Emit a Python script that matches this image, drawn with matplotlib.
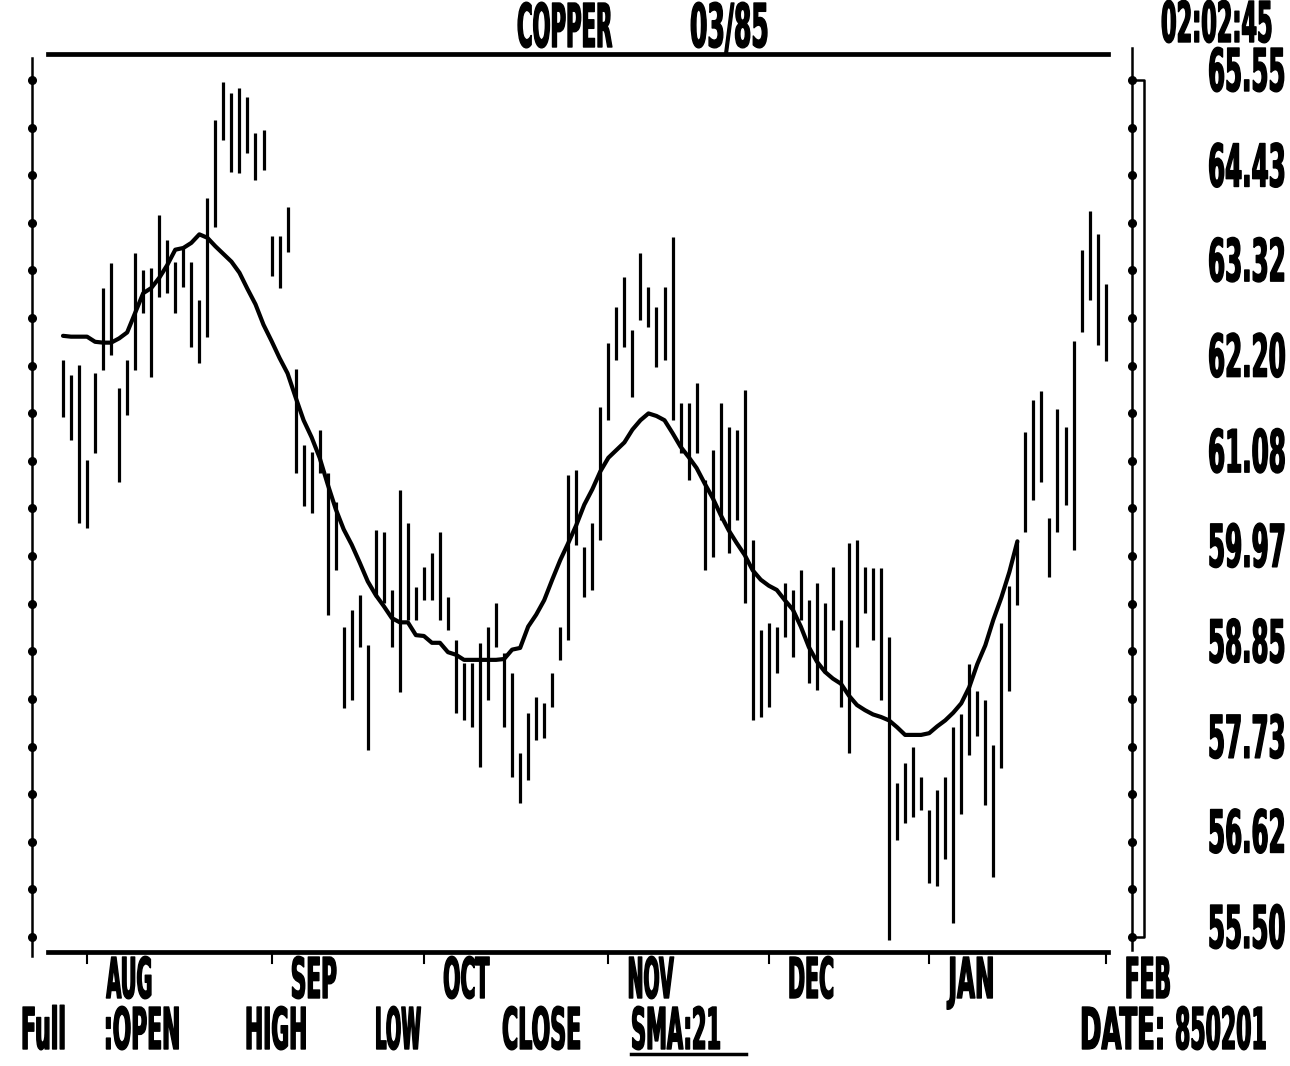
import numpy as np
import matplotlib
matplotlib.use("Agg")
import matplotlib.pyplot as plt
from matplotlib.patheffects import AbstractPathEffect
from matplotlib.transforms import Affine2D, offset_copy

# daily bars, copper 03/85 contract, 27 Jul 1984 .. 1 Feb 1985
highs = [
    62.27, 62.09, 62.21, 61.09, 62.11, 63.11, 63.40, 61.94, 62.27, 63.52,
    63.32, 63.35, 63.97, 63.67, 63.42, 63.59, 63.42, 62.97, 64.17, 65.08,
    65.53, 65.40, 65.46, 65.35, 64.93, 64.96, 63.72, 63.72, 64.06, 62.16,
    61.27, 61.19, 61.45, 60.94, 60.60, 59.14, 59.33, 59.51, 58.92, 60.27,
    60.25, 59.57, 60.74, 60.35, 59.60, 59.84, 60.00, 60.25, 59.49, 58.98,
    58.71, 58.71, 58.95, 59.14, 59.42, 58.83, 58.60, 57.66, 58.13, 58.31,
    58.24, 58.60, 59.14, 60.92, 60.98, 60.07, 60.35, 61.72, 62.47, 62.89,
    63.24, 62.62, 63.52, 63.12, 62.89, 63.12, 63.71, 61.76, 61.76, 62.00,
    60.86, 61.21, 61.76, 61.48, 61.45, 61.91, 60.16, 59.10, 59.18, 59.14,
    59.65, 59.57, 59.80, 59.45, 59.65, 59.42, 59.84, 59.22, 60.12, 60.16,
    59.84, 59.83, 59.83, 59.02, 57.31, 57.54, 57.73, 57.38, 56.99, 57.22,
    57.38, 57.96, 58.11, 58.70, 58.38, 58.28, 57.75, 59.18, 59.62, 60.14,
    61.42, 61.80, 61.90, 60.41, 61.69, 61.48, 62.49, 63.56, 64.01, 63.74,
    63.16]
lows = [
    61.60, 61.33, 60.35, 60.30, 61.17, 62.15, 62.33, 60.84, 61.62, 62.15,
    62.82, 62.07, 63.01, 63.05, 62.82, 63.12, 62.42, 62.23, 62.54, 63.83,
    64.85, 64.47, 64.46, 64.69, 64.38, 64.49, 63.25, 63.11, 63.53, 60.94,
    60.55, 60.47, 60.94, 59.28, 59.80, 58.19, 58.28, 58.90, 57.69, 59.49,
    59.42, 58.90, 58.37, 59.22, 59.22, 59.45, 59.45, 59.22, 59.10, 58.13,
    58.04, 57.96, 57.49, 58.28, 58.90, 57.96, 57.38, 57.07, 57.34, 57.81,
    57.83, 58.20, 58.75, 58.98, 60.10, 59.49, 59.57, 60.16, 61.56, 62.27,
    62.42, 61.83, 62.74, 62.65, 62.18, 62.27, 61.56, 61.17, 60.86, 61.17,
    59.80, 59.96, 60.39, 60.00, 60.39, 59.42, 58.04, 58.08, 58.20, 58.60,
    59.02, 58.78, 59.22, 58.48, 58.40, 58.60, 59.10, 58.20, 57.66, 58.90,
    59.30, 58.98, 58.28, 55.46, 56.64, 56.84, 56.91, 56.99, 56.13, 56.10,
    56.42, 55.66, 56.94, 57.63, 57.86, 57.05, 56.20, 57.48, 58.38, 59.39,
    60.25, 60.63, 60.84, 59.72, 60.25, 60.57, 60.04, 62.59, 62.97, 62.44,
    62.26]

# 21 day simple moving average as drawn (stops a few days before the end)
sma21 = [
    62.55, 62.54, 62.54, 62.54, 62.48, 62.47, 62.47, 62.52, 62.59, 62.82,
    63.05, 63.11, 63.23, 63.38, 63.56, 63.58, 63.64, 63.74, 63.70, 63.60,
    63.51, 63.42, 63.29, 63.10, 62.92, 62.68, 62.49, 62.29, 62.11, 61.83,
    61.56, 61.36, 61.12, 60.81, 60.52, 60.28, 60.10, 59.89, 59.67, 59.51,
    59.38, 59.24, 59.19, 59.19, 59.04, 59.03, 58.95, 58.95, 58.84, 58.81,
    58.75, 58.75, 58.75, 58.75, 58.75, 58.76, 58.87, 58.89, 59.14, 59.28,
    59.45, 59.69, 59.92, 60.12, 60.33, 60.57, 60.75, 60.96, 61.12, 61.21,
    61.30, 61.45, 61.56, 61.64, 61.61, 61.56, 61.41, 61.25, 61.13, 61.00,
    60.82, 60.65, 60.45, 60.27, 60.12, 59.98, 59.80, 59.69, 59.62, 59.57,
    59.45, 59.34, 59.14, 58.90, 58.73, 58.61, 58.53, 58.47, 58.33, 58.22,
    58.16, 58.11, 58.08, 58.04, 57.96, 57.87, 57.87, 57.87, 57.89, 57.97,
    58.04, 58.13, 58.24, 58.43, 58.70, 58.92, 59.22, 59.48, 59.78, 60.14]

months = ["AUG", "SEP", "OCT", "NOV", "DEC", "JAN", "FEB"]
month_start = [3, 26, 45, 68, 88, 108, 130]   # bar index of first trading day

price_ticks = [55.50, 56.62, 57.73, 58.85, 59.97, 61.08, 62.20, 63.32, 64.43, 65.55]
price_labels = ["55.50", "56.62", "57.73", "58.85", "59.97",
                "61.08", "62.20", "63.32", "64.43", "65.55"]

legend_words = ["Full", ":OPEN", "HIGH", "LOW", "CLOSE", "SMA:21"]
legend_left = [21, 104, 245, 375, 502, 631]
legend_width = [45, 76, 62, 46, 79, 90]


class Tall(AbstractPathEffect):
    """stretch text upward (and fatten it a bit) like the old screen font"""
    def __init__(self, sy, lw=1.0):
        super().__init__()
        self.sy = sy
        self.lw = lw

    def draw_path(self, renderer, gc, tpath, affine, rgbFace=None):
        gc0 = renderer.new_gc()
        gc0.copy_properties(gc)
        gc0.set_linewidth(self.lw)
        renderer.draw_path(gc0, tpath, Affine2D().scale(1.0, self.sy) + affine, rgbFace)
        gc0.restore()


W, H = 1290, 1066
fig = plt.figure(figsize=(W / 100, H / 100), dpi=100)
fig.patch.set_facecolor("white")

# plot box in pixels
L, R, T, B = 32, 1144, 54, 952
ax = fig.add_axes([L / W, 1 - B / H, (R - L) / W, (B - T) / H])
ax.set_axis_off()

x0, dx = 63, 8.02          # first bar at 63px, one trading day per 8.02px
top_px, bot_px = 80, 937   # where the top / bottom price ticks sit
ppx = (price_ticks[-1] - price_ticks[0]) / (bot_px - top_px)
ax.set_xlim((L - x0) / dx, (R - x0) / dx)
ax.set_ylim(price_ticks[0] - (B - bot_px) * ppx, price_ticks[-1] + (top_px - T) * ppx)


def fx(px):
    return (px - L) / (R - L)


def fy(py):
    return (B - py) / (B - T)


# bars + moving average
ax.vlines(np.arange(len(highs)), lows, highs, color="black", lw=2.3)
ax.plot(np.arange(len(sma21)), sma21, color="black", lw=3.0, solid_capstyle="round")

# frame pieces
kw = dict(color="black", transform=ax.transAxes, clip_on=False)
ax.plot([fx(48), fx(1108)], [fy(54), fy(54)], lw=3.4, **kw)
ax.plot([fx(48), fx(1108)], [fy(952), fy(952)], lw=3.4, **kw)
ax.plot([fx(32), fx(32)], [fy(58), fy(956)], lw=1.8, **kw)
ax.plot([fx(1132), fx(1132)], [fy(48), fy(950)], lw=1.8, **kw)
ax.plot([fx(1132), fx(1144), fx(1144), fx(1132)],
        [fy(top_px), fy(top_px), fy(bot_px), fy(bot_px)], lw=1.8, **kw)

# tick dots on both price axes (every half label step)
ytr = ax.get_yaxis_transform()
dots = np.linspace(price_ticks[0], price_ticks[-1], 2 * len(price_ticks) - 1)
for xa in (fx(32), fx(1132)):
    ax.plot(np.full(len(dots), xa), dots, "o", ms=5.5, color="black",
            transform=ytr, clip_on=False)

# month start ticks under the bottom line
xtr = ax.get_xaxis_transform()
for m in month_start:
    ax.plot([m, m], [0, fy(963)], lw=1.5, color="black", transform=xtr, clip_on=False)

fitted = []


def retro(t, width, cap_px):
    fitted.append((t, width, cap_px))
    return t


tkw = dict(family="DejaVu Sans", fontweight="bold", color="black",
           ha="left", va="baseline", fontsize=20)

# price labels on the right
lab_tr = offset_copy(ytr, fig=fig, x=0, y=-11, units="dots")
for v, lab in zip(price_ticks, price_labels):
    retro(ax.text(fx(1208), v, lab, transform=lab_tr, **tkw), 78, 43)

# month labels
for m, name in zip(month_start, months):
    retro(ax.text(m + 2.4, fy(998), name, transform=xtr, **tkw), 46, 41)

# header
retro(fig.text(517 / W, 1 - 47 / H, "COPPER", **tkw), 95, 44)
retro(fig.text(690 / W, 1 - 47 / H, "03/85", **tkw), 79, 44)
retro(fig.text(1161 / W, 1 - 42 / H, "02:02:45", **tkw), 112, 41)

# footer
for word, xl, w in zip(legend_words, legend_left, legend_width):
    retro(fig.text(xl / W, 1 - 1049 / H, word, **tkw), w, 42)
retro(fig.text(1080 / W, 1 - 1049 / H, "DATE:", **tkw), 85, 42)
retro(fig.text(1175 / W, 1 - 1049 / H, "850201", **tkw), 92, 42)
ax.plot([fx(631), fx(746)], [fy(1054), fy(1054)], lw=2.5, **kw)

# size each label to its screen width, then stretch it to the screen height
rend = fig.canvas.get_renderer()
for t, w, c in fitted:
    bb = t.get_window_extent(rend)
    fs = t.get_fontsize() * w / bb.width
    t.set_fontsize(fs)
    t.set_path_effects([Tall(c / (0.729 * fs * 100 / 72))])

fig.savefig("out.png", dpi=100, facecolor="white")
